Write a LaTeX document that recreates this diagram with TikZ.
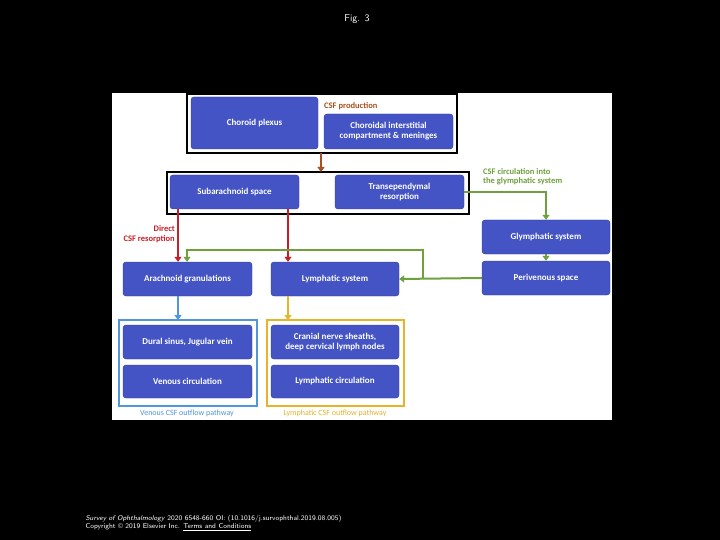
\documentclass[tikz,border=0pt]{standalone}
\usepackage{fontspec}
\setmainfont{Carlito}
\usetikzlibrary{arrows.meta}
\definecolor{bx}{RGB}{68,84,196}
\definecolor{br}{RGB}{170,80,30}
\definecolor{rd}{RGB}{200,30,40}
\definecolor{gr}{RGB}{110,160,60}
\definecolor{bl}{RGB}{80,150,220}
\definecolor{yl}{RGB}{230,180,40}
\begin{document}
\begin{tikzpicture}[x=1pt,y=-1pt,
  box/.style={fill=bx,draw=bx!70!black,rounded corners=3pt,text=white,font=\fontsize{9}{10}\selectfont\bfseries,align=center,inner sep=0},
  arr/.style={line width=2pt,-{Triangle[length=5pt,width=7pt]}},
  lab/.style={font=\fontsize{8.5}{9.5}\selectfont\bfseries,inner sep=0}]
\fill[black] (0,0) rectangle (720,540);
\fill[white] (112,93) rectangle (612,420);
\node[text=white,font=\fontsize{10}{12}\selectfont\sffamily] (title) at (357,19) {Fig. 3};
\draw[line width=2pt] (187,94) rectangle (457,153);
\draw[line width=2pt] (167,172) rectangle (469,214);
\node[box,minimum width=127,minimum height=52] (cp) at (254.5,123) {Choroid plexus};
\node[lab,text=br,anchor=west] (csfp) at (324,106) {CSF production};
\node[box,minimum width=129,minimum height=35] (ci) at (388.5,131.5) {Choroidal interstitial\\compartment \& meninges};
\coordinate (b1) at (321,153);
\coordinate (b2) at (321,172);
\draw[arr,br] (b1) -- (b2);
\node[box,minimum width=129,minimum height=34] (sa) at (234.5,192) {Subarachnoid space};
\node[box,minimum width=129,minimum height=34] (te) at (399.5,192) {Transependymal\\resorption};
\node[box,minimum width=128,minimum height=34] (gs) at (546,237) {Glymphatic system};
\node[box,minimum width=128,minimum height=34] (pv) at (546,278) {Perivenous space};
\node[box,minimum width=129,minimum height=34] (ag) at (187.5,279) {Arachnoid granulations};
\node[box,minimum width=128,minimum height=34] (ls) at (335,279) {Lymphatic system};
\node[box,minimum width=129,minimum height=34] (ds) at (187.5,342) {Dural sinus, Jugular vein};
\node[box,minimum width=129,minimum height=33] (vc) at (187.5,381.5) {Venous circulation};
\node[box,minimum width=128,minimum height=34] (cn) at (335,342) {Cranial nerve sheaths,\\deep cervical lymph nodes};
\node[box,minimum width=128,minimum height=33] (lc) at (335,381.5) {Lymphatic circulation};
\draw[bl,line width=2pt] (119,320) rectangle (257,406);
\draw[yl,line width=2pt] (267,320) rectangle (404,406);
\node[lab,text=bl,font=\fontsize{8}{9}\selectfont] (vl) at (187,413) {Venous CSF outflow pathway};
\node[lab,text=yl,font=\fontsize{8}{9}\selectfont] (ll) at (335,413) {Lymphatic CSF outflow pathway};
\node[lab,text=rd,align=right,anchor=east] (dl) at (175,234) {Direct\\CSF resorption};
\node[lab,text=gr,align=left,anchor=west] (gl) at (483,176.5) {CSF circulation into\\the glymphatic system};
\draw[arr,rd] (sa.south -| 178,0) -- (ag.north -| 178,0);
\draw[arr,rd] (sa.south -| 288,0) -- (ls.north -| 288,0);
\draw[arr,gr] (te.east) -| (gs.north);
\draw[arr,gr] (gs) -- (pv);
\draw[arr,gr] (pv.west) -- (ls.east);
\coordinate (j) at (423,278);
\coordinate (k) at (423,250);
\draw[arr,gr] (j) -- (k) -| (ag.north -| 187,0);
\draw[arr,bl] (ag.south -| 178,0) -- (178,320);
\draw[arr,yl] (ls.south -| 288,0) -- (288,320);
\node[text=white,font=\fontsize{7}{8}\selectfont\sffamily,align=left,anchor=west] (cap) at (82,523) {\textit{Survey of Ophthalmology} 2020 6548-660 OI: (10.1016/j.survophthal.2019.08.005)\\Copyright © 2019 Elsevier Inc. \underline{Terms and Conditions}};
\end{tikzpicture}
\end{document}
